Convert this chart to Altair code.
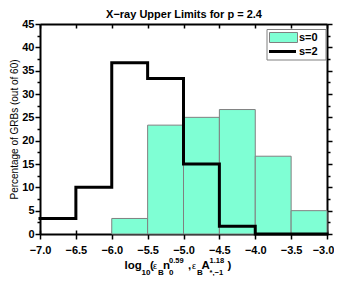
import altair as alt
import pandas as pd

# ---- data ----
bin_lo = [-6.0, -5.5, -5.0, -4.5, -4.0, -3.5]
bin_hi = [-5.5, -5.0, -4.5, -4.0, -3.5, -3.0]
s0_pct = [3.33, 23.33, 25.0, 26.67, 16.67, 5.0]

step_x = [-7.0, -6.5, -6.0, -5.5, -5.0, -4.5, -4.0, -3.5, -3.0]
s2_pct = [3.33, 10.0, 36.67, 33.33, 15.0, 1.67, 0.0, 0.0, 0.0]

x_ticks = [-7.0, -6.5, -6.0, -5.5, -5.0, -4.5, -4.0, -3.5, -3.0]
y_ticks = [0, 2.5, 5, 7.5, 10, 12.5, 15, 17.5, 20, 22.5, 25, 27.5, 30, 32.5,
           35, 37.5, 40, 42.5, 45]

legend_labels = ["s=0", "s=2"]
title_text = "X\u2212ray Upper Limits for p = 2.4"
y_title = "Percentage of GRBs (out of 60)"

FONT = "Liberation Sans"
AQUA = "#7fffd4"
W, H = 287, 210

df0 = pd.DataFrame({"lo": bin_lo, "hi": bin_hi, "pct": s0_pct})
df2 = pd.DataFrame({"x": step_x, "pct": s2_pct})
one = pd.DataFrame({"a": [0]})

xs = alt.Scale(domain=[-7, -3], nice=False, zero=False)
ys = alt.Scale(domain=[0, 45], nice=False)

major_test = "datum.value % 5 === 0"
ytick_size = {"condition": {"test": major_test, "value": 5}, "value": 3}
xlabel_off = {"condition": {"test": "datum.value > -3.05", "value": -4}, "value": 0}

common_axis = dict(domainColor="black", domainWidth=2, tickColor="black",
                   tickWidth=1.5, labelFont=FONT, labelFontSize=11,
                   labelFontWeight="bold", labelColor="black", grid=False)

bars = alt.Chart(df0).mark_bar(color=AQUA, stroke="#808080", strokeWidth=1).encode(
    x=alt.X("lo:Q", scale=xs,
            axis=alt.Axis(orient="bottom", values=x_ticks, format=".1f",
                          title=None, tickSize=5, labelPadding=5,
                          labelOffset=xlabel_off,
                          labelFlush=False, labelOverlap=False, **common_axis)),
    x2="hi:Q",
    y=alt.Y("pct:Q", scale=ys,
            axis=alt.Axis(orient="left", values=y_ticks,
                          labelExpr="datum.value % 5 === 0 ? format(datum.value, 'd') : ''",
                          tickSize=ytick_size, labelPadding=1,
                          title=y_title, titleFont=FONT, titleFontSize=10,
                          titleFontWeight="normal", titleColor="black",
                          titleX=-26, titleY=H / 2, titleAngle=270,
                          titleAlign="center", titleBaseline="middle",
                          labelFlush=False, labelOverlap=False, **common_axis)),
    y2=alt.datum(0),
)

step = alt.Chart(df2).mark_line(interpolate="step-after", color="black",
                                strokeWidth=3, strokeCap="square").encode(
    x=alt.X("x:Q", scale=xs,
            axis=alt.Axis(orient="top", offset=-H, values=x_ticks, labels=False,
                          domain=False, title=None, tickSize=4, tickColor="black",
                          tickWidth=1.5, grid=False)),
    y=alt.Y("pct:Q", scale=ys,
            axis=alt.Axis(orient="right", values=y_ticks, labels=False,
                          title=None, tickSize=ytick_size, domainColor="black",
                          domainWidth=2, tickColor="black", tickWidth=1.5,
                          grid=False)),
)

frame_top = alt.Chart(df2).mark_line(opacity=0).encode(
    x=alt.X("x:Q", scale=xs,
            axis=alt.Axis(orient="bottom", offset=-H, values=x_ticks, labels=False,
                          title=None, tickSize=4, domainColor="black",
                          domainWidth=2, tickColor="black", tickWidth=1.5,
                          grid=False)),
    y=alt.Y("pct:Q", scale=ys, axis=None),
)

# ---- legend ----
leg_box = alt.Chart(one).mark_rect(fill="white", stroke="#808080", strokeWidth=1).encode(
    x=alt.value(227), x2=alt.value(286), y=alt.value(5.5), y2=alt.value(36))
leg_sw = alt.Chart(one).mark_rect(fill=AQUA, stroke="#808080", strokeWidth=1).encode(
    x=alt.value(229.5), x2=alt.value(257.5), y=alt.value(8.5), y2=alt.value(18.5))
leg_ln = alt.Chart(one).mark_rule(color="black", strokeWidth=3).encode(
    x=alt.value(229), x2=alt.value(256), y=alt.value(27.5))
leg_t0 = alt.Chart(one).mark_text(font=FONT, fontSize=11, fontWeight="bold",
                                  align="left", baseline="middle", color="black").encode(
    x=alt.value(259), y=alt.value(13.5), text=alt.value(legend_labels[0]))
leg_t1 = alt.Chart(one).mark_text(font=FONT, fontSize=11, fontWeight="bold",
                                  align="left", baseline="middle", color="black").encode(
    x=alt.value(259), y=alt.value(28), text=alt.value(legend_labels[1]))

title = alt.Chart(one).mark_text(font=FONT, fontSize=11, fontWeight="bold",
                                 align="center", baseline="alphabetic",
                                 color="black").encode(
    x=alt.value(144), y=alt.value(-6), text=alt.value(title_text))

# ---- x axis title composed of pieces ----
BASE, SUB, SUP = 244.5, 250.5, 238.5
OX = 42  # reference pixel -> plot coordinate


def piece(txt, xabs, y, size, weight="bold"):
    return alt.Chart(one).mark_text(font=FONT, fontSize=size, fontWeight=weight,
                                    align="left", baseline="alphabetic",
                                    color="black").encode(
        x=alt.value(xabs - OX), y=alt.value(y), text=alt.value(txt))


xtitle = [
    piece("log", 126.5, BASE, 11.5),
    piece("10", 143.5, SUB, 8),
    piece("(", 152, BASE, 11.5),
    piece("\u03b5", 155, BASE, 9, "normal"),
    piece("B", 160, SUB, 8),
    piece("n", 165, BASE, 11.5),
    piece("0.59", 171, SUP, 7.5),
    piece("0", 171, SUB, 8),
    piece(",", 190, BASE, 11.5),
    piece("\u03b5", 194, BASE, 9, "normal"),
    piece("B", 199, SUB, 8),
    piece("A", 203.5, BASE, 11.5),
    piece("1.18", 211.5, SUP, 7.5),
    piece("*,\u22121", 211.5, SUB + 0.5, 7.5),
    piece(")", 229.5, BASE, 11.5),
]

chart = alt.layer(bars, step, frame_top, leg_box, leg_sw, leg_ln, leg_t0, leg_t1,
                  title, *xtitle).resolve_axis(x="independent", y="independent").properties(
    width=W, height=H,
    autosize=alt.AutoSizeParams(type="none"),
    padding={"left": 32, "top": 16, "right": 7, "bottom": 42},
).configure_view(stroke=None)

chart.save("out.html", embed_options={"renderer": "svg", "actions": False})
